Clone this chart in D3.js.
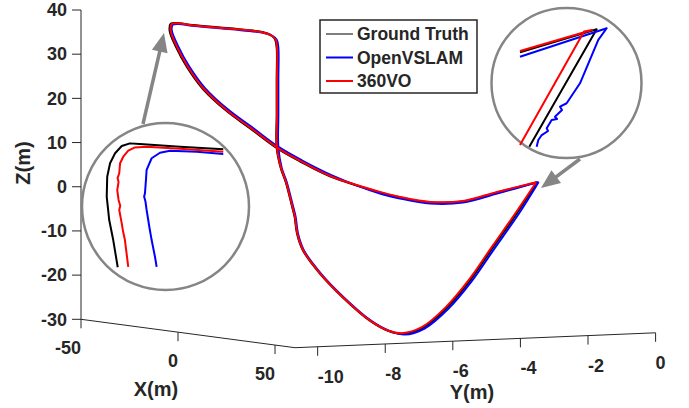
<!DOCTYPE html>
<html>
<head>
<meta charset="utf-8">
<script src="https://cdn.jsdelivr.net/npm/d3@7"></script>
<style>
    body { margin: 0; background: #fff; }
    text { font-family: "Liberation Sans", Arial, sans-serif; font-weight: bold; fill: #262626; }
</style>
</head>
<body>
<div id="chart"></div>
<script>

// axis limits and ticks (metres)
const xDomain = [-50, 60.3];
const yDomain = [-10.67, 0];
const zDomain = [-30, 40];
const xTicks = [-50, 0, 50];
const yTicks = [-10, -8, -6, -4, -2, 0];
const zTicks = [-30, -20, -10, 0, 10, 20, 30, 40];

const seriesNames = ["Ground Truth", "OpenVSLAM", "360VO"];
const seriesColors = ["#000000", "#0000ff", "#ff0000"];

// trajectories [X, Y, Z]
const groundTruth = [
    [-0.7, 0, 0.5], [-4, -1.0, -1.66], [-8, -1.78, -3.68], [-12, -2.52, -3.9], [-15, -3.24, -2.71],
    [-17, -3.72, -1.54], [-21, -4.97, 2.26], [-24, -5.69, 5.71], [-26, -6.25, 8.73], [-29, -6.88, 13.29],
    [-31, -7.45, 17.21], [-34, -7.98, 22.2], [-36, -8.34, 27.19], [-38, -8.55, 31.68], [-39.5, -8.65, 35.26],
    [-40, -8.59, 36.8], [-37, -8.61, 37.19], [-29, -8.57, 37.16], [-11, -8.51, 37.44], [4, -8.48, 37.57],
    [9, -8.47, 37.16], [11, -8.44, 36.35], [12, -8.44, 34.37], [12, -8.44, 27.11], [12, -8.44, 19.17],
    [12, -8.44, 11.69], [12, -8.32, 7.12], [13, -8.23, 3.97], [14, -8.11, -1.23], [15, -8.08, -3.9],
    [16, -8.07, -7.48], [18, -8.01, -11.24], [22, -7.74, -16.33], [28, -7.4, -21.54], [36, -7.06, -26.43],
    [41, -6.81, -28.5], [45, -6.6, -29.03], [48, -6.18, -27.63], [48, -5.47, -23.32], [44, -4.56, -17.69],
    [34, -3.3, -11.13], [18, -1.67, -4.8], [-0.7, 0, 0.5]
];

const openVSLAM = [
    [-0.5, 0.03, 0.6], [-4, -1.0, -1.91], [-8, -1.78, -3.93], [-12, -2.52, -4.15], [-15, -3.24, -2.96],
    [-17, -3.72, -1.79], [-21, -4.91, 2.46], [-24, -5.63, 5.91], [-26, -6.19, 8.93], [-29, -6.82, 13.49],
    [-31, -7.39, 17.41], [-34, -7.92, 22.4], [-36, -8.28, 27.39], [-38, -8.49, 31.88], [-39.5, -8.59, 35.46],
    [-40, -8.53, 36.55], [-37, -8.55, 36.94], [-29, -8.51, 36.91], [-11, -8.45, 37.19], [4, -8.42, 37.32],
    [9, -8.41, 36.91], [11, -8.38, 36.1], [12, -8.39, 34.37], [12, -8.39, 27.11], [12, -8.39, 19.17],
    [12, -8.39, 11.69], [12, -8.29, 7.12], [13, -8.2, 3.97], [14, -8.08, -1.23], [15, -8.05, -3.9],
    [16, -8.04, -7.48], [18, -7.98, -11.24], [22, -7.71, -16.33], [28, -7.37, -21.54], [36, -7.03, -26.43],
    [41, -6.78, -28.5], [45, -6.55, -29.23], [48, -6.13, -27.83], [48, -5.42, -23.52], [44, -4.51, -17.89],
    [34, -3.25, -11.33], [18, -1.62, -5.0], [-0.5, 0.03, 0.6]
];

const vo360 = [
    [-0.9, -0.02, 0.5], [-4, -1.0, -1.56], [-8, -1.78, -3.58], [-12, -2.52, -3.8], [-15, -3.24, -2.61],
    [-17, -3.72, -1.44], [-21, -4.94, 2.26], [-24, -5.66, 5.71], [-26, -6.22, 8.73], [-29, -6.85, 13.29],
    [-31, -7.42, 17.21], [-34, -7.95, 22.2], [-36, -8.31, 27.19], [-38, -8.52, 31.68], [-39.5, -8.62, 35.26],
    [-40, -8.565, 36.7], [-37, -8.585, 37.09], [-29, -8.545, 37.06], [-11, -8.485, 37.34], [4, -8.455, 37.47],
    [9, -8.445, 37.06], [11, -8.415, 36.25], [12, -8.43, 34.37], [12, -8.43, 27.11], [12, -8.43, 19.17],
    [12, -8.43, 11.69], [12, -8.31, 7.12], [13, -8.22, 3.97], [14, -8.1, -1.23], [15, -8.07, -3.9],
    [16, -8.06, -7.48], [18, -8.0, -11.24], [22, -7.73, -16.33], [28, -7.39, -21.54], [36, -7.05, -26.43],
    [41, -6.8, -28.5], [45, -6.63, -28.88], [48, -6.21, -27.48], [48, -5.5, -23.17], [44, -4.59, -17.54],
    [34, -3.33, -10.98], [18, -1.7, -4.65], [-0.9, -0.02, 0.5]
];

// zoomed insets, local units 0..100 across each circle (v upwards)
const leftInsetGT = [
    [21.4, 13.6], [18.7, 29.9], [16.3, 41.9], [14.8, 55.9], [15.1, 67.8], [16.8, 75.9], [19.8, 81.9],
    [23.8, 86.2], [28.7, 87.8], [34.7, 87.4], [58.7, 85.8], [84.6, 84.3]
];
const leftInsetOV = [
    [44.7, 13.8], [43.7, 19.9], [41.7, 29.9], [40.3, 37.9], [38.7, 47.9], [38.0, 53.0], [37.2, 56.0],
    [37.7, 57.9], [38.3, 65.9], [38.7, 71.9], [41.7, 78.9], [46.7, 82.2], [52.7, 83.4], [68.7, 82.8], [84.6, 81.4]
];
const leftInsetVO = [
    [27.7, 13.8], [25.7, 29.9], [24.6, 35.0], [23.8, 39.9], [22.3, 47.9], [22.9, 50.5], [21.9, 53.9],
    [21.1, 59.9], [21.9, 64.7], [21.3, 67.0], [22.3, 69.9], [22.8, 75.9], [24.7, 79.8], [27.7, 83.4],
    [31.7, 85.4], [38.7, 85.8], [58.7, 84.6], [84.6, 82.8]
];
const rightInsetGT = [[19, 70.5], [70.1, 85.8], [25.2, 7.5]];
const rightInsetOV = [
    [19, 67.5], [76.8, 86.5], [71.2, 78.7], [59, 49.8], [50.1, 36.5], [45.7, 34.2], [47, 32], [42.3, 27.5],
    [43.7, 26], [40.1, 25.3], [36.8, 19.8], [37.7, 18], [33.5, 15.3], [31.2, 12], [30.1, 7.5]
];
const rightInsetVO = [[19, 71.3], [67, 85.3], [61.7, 84.3], [19, 8.7]];


const svg = d3.select("#chart").append("svg")
    .attr("width", 689)
    .attr("height", 408);

// oblique 3D projection built from three vector-valued scales
const origin = [81, 319.3];
const xS = d3.scaleLinear().domain(xDomain).range([[0, 0], [214, 28.4]]);
const yS = d3.scaleLinear().domain(yDomain).range([[0, 0], [360.6, -14.9]]);
const zS = d3.scaleLinear().domain(zDomain).range([[0, 0], [0, -309.3]]);

function proj(p) {
    let a = xS(p[0]), b = yS(p[1]), c = zS(p[2]);
    return [origin[0] + a[0] + b[0] + c[0], origin[1] + a[1] + b[1] + c[1]];
}

const axisColor = "#262626";
const axes = svg.append("g");

// axis lines
let c0 = proj([xDomain[0], yDomain[0], zDomain[0]]);
let c1 = proj([xDomain[1], yDomain[0], zDomain[0]]);
let c2 = proj([xDomain[1], yDomain[1], zDomain[0]]);
let c3 = proj([xDomain[0], yDomain[0], zDomain[1]]);
axes.append("path")
    .attr("d", `M${c3}L${c0}L${c1}L${c2}`)
    .attr("fill", "none")
    .attr("stroke", axisColor)
    .attr("stroke-width", 1);

// z ticks
zTicks.forEach(v => {
    let p = proj([xDomain[0], yDomain[0], v]);
    axes.append("line").attr("x1", p[0]).attr("y1", p[1]).attr("x2", p[0] - 9).attr("y2", p[1])
        .attr("stroke", axisColor);
    axes.append("text").attr("x", p[0] - 14).attr("y", p[1]).attr("dy", "0.35em")
        .attr("text-anchor", "end").style("font-size", "18px").text(v);
});

// x ticks
xTicks.forEach(v => {
    let p = proj([v, yDomain[0], zDomain[0]]);
    axes.append("line").attr("x1", p[0]).attr("y1", p[1]).attr("x2", p[0]).attr("y2", p[1] + 9)
        .attr("stroke", axisColor);
    axes.append("text").attr("x", p[0]).attr("y", p[1] + 35)
        .attr("text-anchor", "end").style("font-size", "18px").text(v);
});

// y ticks
yTicks.forEach(v => {
    let p = proj([xDomain[1], v, zDomain[0]]);
    axes.append("line").attr("x1", p[0]).attr("y1", p[1]).attr("x2", p[0]).attr("y2", p[1] + 9)
        .attr("stroke", axisColor);
    axes.append("text").attr("x", p[0]).attr("y", p[1] + 36)
        .attr("text-anchor", "start").style("font-size", "18px").text(v);
});

// axis titles
axes.append("text").attr("x", 156).attr("y", 396).attr("text-anchor", "middle")
    .style("font-size", "20px").text("X(m)");
axes.append("text").attr("x", 472).attr("y", 399).attr("text-anchor", "middle")
    .style("font-size", "20px").text("Y(m)");
axes.append("text").attr("transform", "translate(30,163) rotate(-90)").attr("text-anchor", "middle")
    .style("font-size", "20px").text("Z(m)");

// trajectories
const line3d = d3.line()
    .x(d => proj(d)[0])
    .y(d => proj(d)[1])
    .curve(d3.curveCatmullRom.alpha(0.5));

[groundTruth, openVSLAM, vo360].forEach((traj, i) => {
    svg.append("path")
        .datum(traj)
        .attr("d", line3d)
        .attr("fill", "none")
        .attr("stroke", seriesColors[i])
        .attr("stroke-width", 2)
        .attr("stroke-linejoin", "round");
});

// insets
function drawInset(cx, cy, r, sets) {
    let g = svg.append("g");
    g.append("circle").attr("cx", cx).attr("cy", cy).attr("r", r)
        .attr("fill", "none").attr("stroke", "#858585").attr("stroke-width", 2.5);
    let u = d3.scaleLinear().domain([0, 100]).range([cx - r, cx + r]);
    let v = d3.scaleLinear().domain([0, 100]).range([cy + r, cy - r]);
    let ln = d3.line().x(d => u(d[0])).y(d => v(d[1]));
    sets.forEach((s, i) => {
        g.append("path").datum(s).attr("d", ln)
            .attr("fill", "none").attr("stroke", seriesColors[i])
            .attr("stroke-width", 2).attr("stroke-linejoin", "round");
    });
}
drawInset(165.5, 206.5, 83.5, [leftInsetGT, leftInsetOV, leftInsetVO]);
drawInset(566.5, 83, 75, [rightInsetGT, rightInsetOV, rightInsetVO]);

// arrows
function arrow(from, to) {
    let dx = to[0] - from[0], dy = to[1] - from[1];
    let len = Math.sqrt(dx * dx + dy * dy);
    let ux = dx / len, uy = dy / len;
    let hl = 19, hw = 8;
    let bx = to[0] - ux * hl, by = to[1] - uy * hl;
    svg.append("line")
        .attr("x1", from[0]).attr("y1", from[1])
        .attr("x2", bx + ux * 4).attr("y2", by + uy * 4)
        .attr("stroke", "#858585").attr("stroke-width", 3.5);
    svg.append("path")
        .attr("d", `M${to[0]},${to[1]}L${bx - uy * hw},${by + ux * hw}L${bx + uy * hw},${by - ux * hw}Z`)
        .attr("fill", "#858585");
}
arrow([143, 124], [164, 33]);
arrow([580, 159], [541, 188]);

// legend
const legend = svg.append("g");
legend.append("rect")
    .attr("x", 320).attr("y", 20).attr("width", 157).attr("height", 73)
    .attr("fill", "#fff").attr("stroke", "#262626").attr("stroke-width", 1.5);
seriesNames.forEach((name, i) => {
    let y = 34 + i * 23.5;
    legend.append("line").attr("x1", 326).attr("x2", 353).attr("y1", y).attr("y2", y)
        .attr("stroke", seriesColors[i]).attr("stroke-width", i === 0 ? 1 : 2);
    legend.append("text").attr("x", 357).attr("y", y + 6).style("font-size", "17.5px").text(name);
});

</script>
</body>
</html>
